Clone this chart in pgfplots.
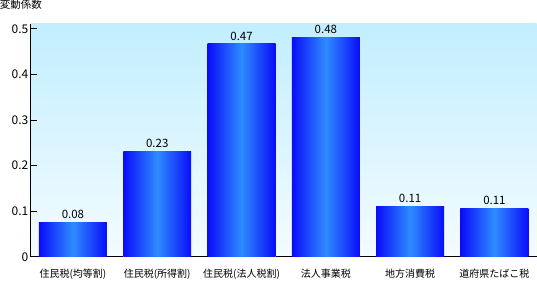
\documentclass[border=0pt]{standalone}
\usepackage{pgfplots}
\pgfplotsset{compat=1.18}
\usepackage{fontspec}
\setmainfont{Noto Sans CJK JP}
\definecolor{barEdge}{HTML}{0A0CF8}
\definecolor{barMid}{HTML}{2E8CFF}
\definecolor{bgTop}{HTML}{C2EEFF}
\definecolor{bgBot}{HTML}{F4FCFF}
\begin{document}
\begin{tikzpicture}
\begin{axis}[
  scale only axis,
  width=506pt, height=233pt,
  xmin=-0.5, xmax=5.5,
  ymin=0, ymax=0.511,
  axis x line*=bottom, axis y line*=left,
  axis line style={black, line width=0.8pt},
  axis background/.style={top color=bgTop, bottom color=bgBot},
  xtick={0,1,2,3,4,5},
  xticklabels={住民税(均等割),住民税(所得割),住民税(法人税割),法人事業税,地方消費税,道府県たばこ税},
  major x tick style={draw=none},
  x tick label style={font=\fontsize{10}{11}\selectfont, yshift=-3pt},
  ytick={0,0.1,0.2,0.3,0.4,0.5},
  yticklabels={0,0.1,0.2,0.3,0.4,0.5},
  y tick label style={font=\fontsize{12}{13}\selectfont, xshift=1pt},
  tick align=inside,
  major tick length=6pt,
  major y tick style={black, line width=0.8pt},
  ytick pos=left,
  ybar, bar width=68pt, bar shift=0pt,
  nodes near coords,
  nodes near coords style={font=\fontsize{11.5}{13}\selectfont, black,
    /pgf/number format/fixed, /pgf/number format/fixed zerofill,
    /pgf/number format/precision=2, /pgf/number format/assume math mode=true},
  clip=false,
  every axis plot/.append style={draw=none, left color=barEdge,
    right color=barEdge, middle color=barMid},
]
% one plot per bar so that each bar gets its own horizontal shading
\addplot coordinates {(0,0.076)};
\addplot coordinates {(1,0.232)};
\addplot coordinates {(2,0.467)};
\addplot coordinates {(3,0.482)};
\addplot coordinates {(4,0.110)};
\addplot coordinates {(5,0.106)};
\node[anchor=west, font=\fontsize{10.5}{12}\selectfont, inner sep=0pt]
  at ([xshift=-31pt, yshift=19pt]rel axis cs:0,1) {変動係数};
\end{axis}
\end{tikzpicture}
\end{document}
